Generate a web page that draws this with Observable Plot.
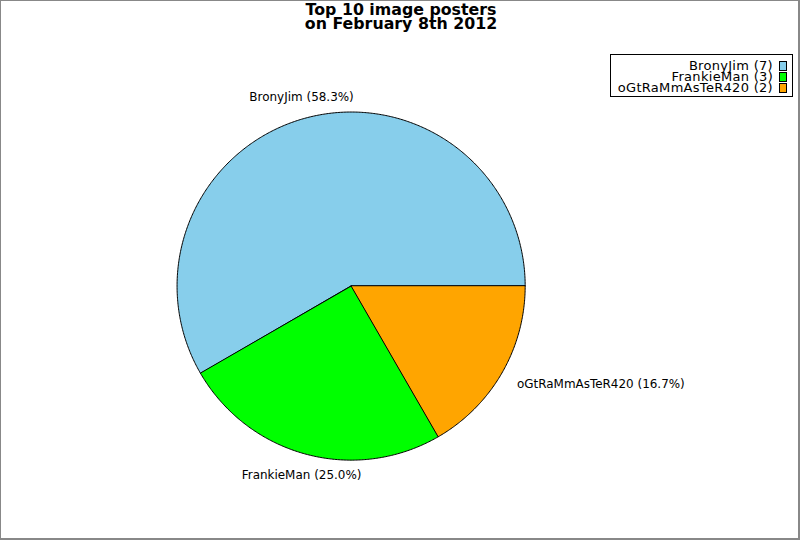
<!DOCTYPE html>
<html>
<head>
<meta charset="utf-8">
<script src="https://cdn.jsdelivr.net/npm/d3@7"></script>
<script src="https://cdn.jsdelivr.net/npm/@observablehq/plot@0.6"></script>
<style>
  html, body { margin: 0; padding: 0; background: #fff; }
  #wrap { position: relative; width: 800px; height: 540px; box-sizing: border-box; border: 1px solid #888; border-right-width: 2px; border-bottom-width: 2px; overflow: hidden; font-family: "DejaVu Sans", sans-serif; }
  #title { position: absolute; left: 0; top: 2px; width: 800px; text-align: center; font-weight: bold; font-size: 15.8px; line-height: 13.5px; color: #000; }
  #chart { position: absolute; left: -1px; top: -1px; }
  #legend { position: absolute; left: 609px; top: 53px; width: 181px; height: 41px; border: 1px solid #000; background: #fff; }
  .row { position: absolute; right: 0; height: 11px; font-size: 13px; line-height: 11px; white-space: nowrap; letter-spacing: 0.3px; }
  .row span.t { position: absolute; right: 19px; top: 0; }
  .row span.s { position: absolute; right: 5px; top: 1px; width: 6px; height: 8px; border: 1px solid #000; }
</style>
</head>
<body>
<div id="wrap">
  <div id="chart"></div>
  <div id="title">Top 10 image posters<br>on February 8th 2012</div>
  <div id="legend"></div>
</div>
<script>
const names = ["BronyJim", "FrankieMan", "oGtRaMmAsTeR420"];
const counts = [7, 3, 2];
const colors = ["#87ceeb", "#00ff00", "#ffa500"];
const titleText = ["Top 10 image posters", "on February 8th 2012"];

const total = d3.sum(counts);
let acc = 0;
const slices = names.map((name, i) => {
  const a0 = acc / total * 2 * Math.PI;
  acc += counts[i];
  const a1 = acc / total * 2 * Math.PI;
  const mid = (a0 + a1) / 2;
  const pts = [[0, 0]];
  const n = Math.max(2, Math.ceil((a1 - a0) / (Math.PI / 360)));
  for (let k = 0; k <= n; k++) {
    const a = a0 + (a1 - a0) * k / n;
    pts.push([Math.cos(a), Math.sin(a)]);
  }
  pts.push([0, 0]);
  const c = Math.cos(mid);
  return {
    name, count: counts[i], color: colors[i],
    pct: counts[i] / total * 100,
    mid,
    anchor: c > 0.3 ? "start" : c < -0.3 ? "end" : "middle",
    feature: {type: "Feature", properties: {name, color: colors[i]}, geometry: {type: "Polygon", coordinates: [pts]}}
  };
});

// frame domain (a bit larger than the unit pie so that labels are inside)
const R = 1.2;
const domain = {type: "Polygon", coordinates: [[[-R, -R], [R, -R], [R, R], [-R, R], [-R, -R]]]};
const label = d => `${d.name} (${d.pct.toFixed(1)}%)`;
const lx = d => 1.1 * Math.cos(d.mid);
const ly = d => 1.125 * Math.sin(d.mid);
const textOpts = anchor => ({x: lx, y: ly, text: label, textAnchor: anchor, fontSize: 12, fontFamily: "DejaVu Sans", fill: "#000"});

const rpx = 174.5, cx = 351.5, cy = 286.3;
const half = R * rpx;
const plot = Plot.plot({
  width: 800,
  height: 540,
  marginLeft: cx - half,
  marginRight: 800 - cx - half,
  marginTop: cy - half,
  marginBottom: 540 - cy - half,
  projection: {type: "reflect-y", domain},
  style: {background: "transparent", fontFamily: "DejaVu Sans", overflow: "visible"},
  marks: [
    Plot.geo(slices.map(d => d.feature), {fill: d => d.properties.color, stroke: "#000", strokeWidth: 1, strokeLinejoin: "round"}),
    Plot.text(slices.filter(d => d.anchor === "start"), textOpts("start")),
    Plot.text(slices.filter(d => d.anchor === "end"), textOpts("end")),
    Plot.text(slices.filter(d => d.anchor === "middle"), textOpts("middle"))
  ]
});
document.getElementById("chart").appendChild(plot);

const legend = document.getElementById("legend");
slices.forEach((d, i) => {
  const row = document.createElement("div");
  row.className = "row";
  row.style.top = (5 + i * 11) + "px";
  row.style.width = "181px";
  const t = document.createElement("span");
  t.className = "t";
  t.textContent = `${d.name} (${d.count})`;
  const s = document.createElement("span");
  s.className = "s";
  s.style.background = d.color;
  row.appendChild(t);
  row.appendChild(s);
  legend.appendChild(row);
});
</script>
</body>
</html>
